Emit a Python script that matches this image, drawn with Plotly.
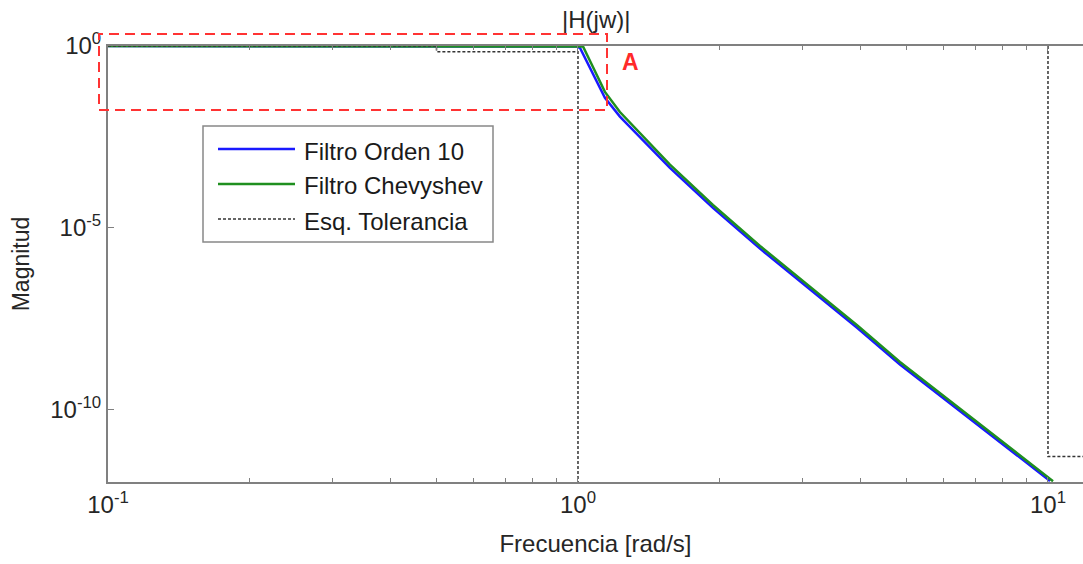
import math
import plotly.graph_objects as go

# ---- data ----
freq_orden10 = [0.1, 0.915, 0.995, 1.01, 1.071, 1.141, 1.228, 1.569, 1.937, 2.439, 3.925, 4.842, 10.1]
mag_orden10 = [1, 1, 0.97, 0.88, 0.193, 0.0373, 0.0114, 4.4e-4, 3.5e-5, 2.65e-6, 1.76e-8, 1.72e-9, 1.07e-12]

freq_cheb = [0.1, 0.915, 1.0, 1.025, 1.071, 1.141, 1.228, 1.569, 1.937, 2.439, 3.925, 4.842, 10.25]
mag_cheb = [1, 1, 1, 0.97, 0.30, 0.0545, 0.0152, 5.45e-4, 4.2e-5, 3.14e-6, 2.06e-8, 2.02e-9, 1.05e-12]

freq_tol = [0.1, 0.5, 0.5, 1.0, 1.0, None, 10, 10, 12]
mag_tol = [1, 1, 0.7, 0.7, 1e-12, None, 1, 5e-12, 5e-12]

series_names = ["Filtro Orden 10", "Filtro Chevyshev", "Esq. Tolerancia"]
series_colors = ["#1a1aff", "#1f8f1f", "#333333"]

x_major = [0.1, 1, 10]
x_ticktext = ["10<sup>-1</sup>", "10<sup>0</sup>", "10<sup>1</sup>"]
x_minor = [0.2, 0.3, 0.4, 0.5, 0.6, 0.7, 0.8, 0.9, 2, 3, 4, 5, 6, 7, 8, 9]
y_ticks = [1e-10, 1e-5, 1]
y_ticktext = ["10<sup>-10</sup>", "10<sup>-5</sup>", "10<sup>0</sup>"]

# ---- figure geometry (body margin removed via post_script) ----
W, H = 1083, 564
L, R, T, B = 108, 0, 46, 82
PW, PH = W - L - R, H - T - B

def px(x):
    return (x - L) / PW

def py(y):
    return (H - B - y) / PH

FS = 24
TXT = "#262626"
axis_col = "#808080"

fig = go.Figure()
fig.add_trace(go.Scatter(x=freq_orden10, y=mag_orden10, mode="lines", name=series_names[0],
                         line=dict(color=series_colors[0], width=2.5)))
fig.add_trace(go.Scatter(x=freq_cheb, y=mag_cheb, mode="lines", name=series_names[1],
                         line=dict(color=series_colors[1], width=2.5)))
fig.add_trace(go.Scatter(x=freq_tol, y=mag_tol, mode="lines", name=series_names[2], connectgaps=False,
                         line=dict(color=series_colors[2], width=1.5, dash="3px,2px")))

fig.update_xaxes(type="log", range=[-1, 1.0745], showline=True, linecolor=axis_col, linewidth=2,
                 mirror="allticks", ticks="inside", ticklen=5, tickwidth=1.2, tickcolor=axis_col,
                 tickmode="array", tickvals=x_major, ticktext=x_ticktext, showgrid=False, zeroline=False,
                 minor=dict(tickmode="array", tickvals=x_minor, ticks="inside", ticklen=4, tickwidth=1.2,
                            tickcolor=axis_col, showgrid=False),
                 tickfont=dict(size=FS, color=TXT),
                 title=dict(text="Frecuencia [rad/s]", font=dict(size=FS, color=TXT), standoff=18))
fig.update_yaxes(type="log", range=[-12, 0], showline=True, linecolor=axis_col, linewidth=2,
                 mirror=False, ticks="inside", ticklen=6, tickwidth=1.2, tickcolor=axis_col,
                 tickmode="array", tickvals=y_ticks, ticktext=y_ticktext, showgrid=False, zeroline=False,
                 tickfont=dict(size=FS, color=TXT),
                 title=dict(text="Magnitud", font=dict(size=23, color=TXT), standoff=14))

shapes = []
annotations = []

# right-side (mirrored) y ticks; the right frame line itself lies beyond the picture edge
for v in y_ticks:
    shapes.append(dict(type="line", xref="paper", yref="y", x0=1 - 6 / PW, x1=1.0,
                       y0=math.log10(v), y1=math.log10(v), line=dict(color=axis_col, width=1.2)))

# red dashed zoom box and its label
shapes.append(dict(type="rect", xref="paper", yref="paper", x0=px(99), x1=px(607), y0=py(110), y1=py(34),
                   line=dict(color="#ff3333", width=2, dash="10px,6px"), fillcolor="rgba(0,0,0,0)", layer="above"))
annotations.append(dict(text="<b>A</b>", xref="paper", yref="paper", x=px(630), y=py(62), showarrow=False,
                        xanchor="center", yanchor="middle", font=dict(size=23, color="#ff2a2a")))
# title
annotations.append(dict(text="|H(jw)|", xref="paper", yref="paper", x=px(596), y=py(19), showarrow=False,
                        xanchor="center", yanchor="middle", font=dict(size=FS, color=TXT)))

# legend box
shapes.append(dict(type="rect", xref="paper", yref="paper", x0=px(203), x1=px(493), y0=py(242), y1=py(126),
                   line=dict(color="#888888", width=1.5), fillcolor="white", layer="above"))
row_y = [149, 184, 219]
dashes = ["solid", "solid", "3px,2px"]
widths = [2.5, 2.5, 1.5]
for i, name in enumerate(series_names):
    shapes.append(dict(type="line", xref="paper", yref="paper", x0=px(218), x1=px(295), y0=py(row_y[i]),
                       y1=py(row_y[i]), line=dict(color=series_colors[i], width=widths[i], dash=dashes[i]),
                       layer="above"))
    annotations.append(dict(text=name, xref="paper", yref="paper", x=px(302), y=py(row_y[i] + 2),
                            showarrow=False, xanchor="left", yanchor="middle",
                            font=dict(size=FS, color="#1a1a1a")))

fig.update_layout(width=W, height=H, margin=dict(l=L, r=R, t=T, b=B), plot_bgcolor="white",
                  paper_bgcolor="white", showlegend=False,
                  font=dict(family="Liberation Sans, Arial, sans-serif", size=FS, color=TXT),
                  shapes=shapes, annotations=annotations)

fig.write_html("out.html", config={"displayModeBar": False},
               post_script="document.body.style.margin='0';document.body.style.overflow='hidden';")
